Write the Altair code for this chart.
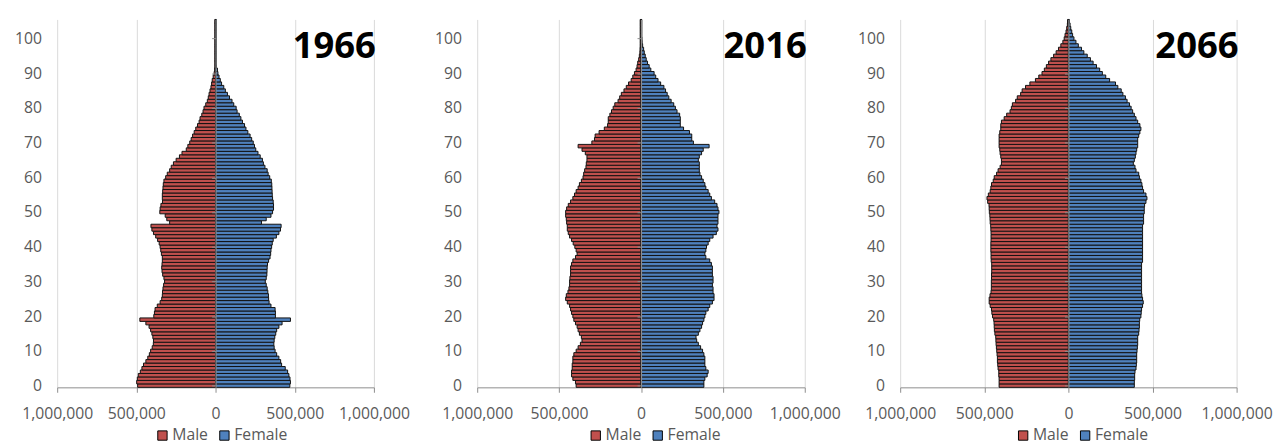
import altair as alt
import pandas as pd

AGES = list(range(0, 106))
SEXES = ["Male", "Female"]
COLORS = ["#C0504D", "#4F81BD"]
X_TICKS = [-1000000, -500000, 0, 500000, 1000000]
Y_TICKS = list(range(0, 101, 10))

# values in thousands, ages 0..105
m1966 = [492, 498, 494, 488, 475, 465, 455, 440, 428, 418,
         410, 400, 393, 392, 396, 402, 410, 420, 440, 478,
         390, 386, 382, 368, 350, 340, 336, 335, 332, 328,
         322, 326, 334, 338, 340, 338, 336, 336, 342, 346,
         350, 356, 366, 378, 392, 402, 408, 290, 308, 318,
         352, 350, 345, 335, 336, 336, 334, 332, 330, 326,
         315, 305, 290, 280, 266, 249, 228, 212, 185, 175,
         163, 154, 145, 135, 125, 114, 104, 98, 87, 79,
         73, 62, 52, 46, 41, 35, 29, 25, 21, 15,
         9, 6, 5, 5, 5, 5, 5, 5, 5, 5,
         5, 5, 5, 5, 5, 5]
f1966 = [469, 473, 470, 463, 455, 440, 417, 411, 400, 386,
         376, 370, 368, 370, 374, 380, 386, 400, 420, 473,
         378, 378, 376, 350, 338, 335, 334, 330, 326, 320,
         314, 320, 324, 325, 326, 328, 335, 344, 348, 350,
         354, 358, 364, 384, 400, 410, 414, 290, 320, 350,
         360, 366, 366, 364, 360, 358, 357, 356, 355, 352,
         342, 332, 326, 312, 302, 296, 282, 268, 254, 246,
         238, 228, 218, 204, 192, 183, 170, 160, 150, 136,
         130, 115, 104, 88, 75, 62, 52, 38, 30, 22,
         15, 12, 6, 5, 5, 5, 5, 5, 5, 5,
         5, 5, 5, 5, 5, 5]
m2016 = [396, 400, 416, 424, 424, 420, 420, 416, 416, 410,
         396, 384, 370, 360, 364, 376, 384, 390, 400, 410,
         416, 424, 430, 436, 450, 460, 456, 446, 440, 436,
         436, 434, 430, 430, 430, 424, 416, 400, 390, 396,
         404, 414, 424, 436, 444, 450, 450, 454, 456, 460,
         460, 454, 444, 430, 416, 406, 396, 384, 376, 364,
         354, 350, 344, 336, 334, 330, 330, 340, 360, 384,
         300, 284, 280, 256, 224, 204, 200, 200, 190, 180,
         170, 160, 140, 130, 120, 104, 90, 76, 60, 50,
         40, 30, 24, 20, 14, 10, 7, 6, 5, 5,
         5, 5, 5, 5, 5, 5]
f2016 = [384, 384, 390, 404, 410, 396, 390, 390, 390, 384,
         376, 364, 350, 340, 336, 350, 360, 370, 376, 384,
         390, 396, 410, 420, 436, 446, 446, 440, 440, 436,
         440, 440, 436, 436, 436, 430, 420, 396, 390, 396,
         400, 410, 420, 440, 460, 470, 464, 470, 470, 470,
         476, 470, 464, 450, 430, 420, 410, 396, 390, 380,
         370, 360, 356, 356, 356, 350, 356, 370, 380, 416,
         320, 310, 310, 296, 260, 240, 240, 240, 236, 220,
         210, 200, 184, 170, 160, 150, 140, 120, 104, 90,
         80, 60, 50, 40, 32, 26, 20, 16, 10, 7,
         6, 5, 5, 5, 5, 5]
m2066 = [412, 412, 412, 414, 414, 418, 420, 422, 422, 424,
         426, 428, 430, 431, 432, 437, 440, 441, 442, 444,
         451, 455, 457, 465, 471, 471, 466, 460, 458, 458,
         458, 457, 457, 456, 456, 456, 459, 460, 460, 461,
         461, 461, 460, 460, 460, 461, 462, 465, 466, 467,
         470, 471, 472, 480, 484, 476, 465, 461, 457, 447,
         441, 427, 418, 406, 398, 398, 402, 406, 408, 412,
         412, 412, 412, 408, 402, 402, 398, 382, 367, 347,
         339, 333, 314, 304, 284, 275, 255, 229, 196, 176,
         157, 143, 131, 118, 104, 88, 73, 59, 45, 33,
         25, 20, 14, 10, 6, 5]
f2066 = [392, 392, 394, 394, 396, 402, 404, 406, 406, 406,
         408, 410, 412, 412, 412, 418, 420, 422, 422, 424,
         431, 433, 435, 441, 445, 441, 437, 435, 435, 435,
         435, 435, 435, 435, 435, 435, 441, 441, 441, 441,
         441, 441, 441, 441, 441, 441, 441, 447, 447, 447,
         451, 451, 453, 461, 467, 461, 447, 441, 437, 431,
         422, 418, 402, 396, 386, 392, 398, 402, 406, 412,
         412, 412, 418, 425, 431, 425, 412, 402, 392, 382,
         373, 363, 349, 339, 324, 314, 294, 280, 245, 222,
         202, 186, 167, 147, 131, 112, 92, 78, 59, 45,
         33, 25, 20, 14, 10, 6]

FONT = "Open Sans"
GREY = "#595959"
AXIS_GREY = "#8C8C8C"


def panel(year, male, female, W, legend_shift):
    rows = []
    for a, v in zip(AGES, male):
        rows.append({"age": a, "sex": "Male", "value": -v * 1000})
    for a, v in zip(AGES, female):
        rows.append({"age": a, "sex": "Female", "value": v * 1000})
    df = pd.DataFrame(rows)

    bars = alt.Chart(df).mark_rect(stroke="#111111", strokeWidth=1).transform_calculate(
        lo="datum.age - 0.5", hi="datum.age + 0.5", zero="0"
    ).encode(
        x=alt.X("value:Q",
                scale=alt.Scale(domain=[-1000000, 1000000], nice=False),
                axis=alt.Axis(values=X_TICKS, labelExpr="format(abs(datum.value), ',')",
                              grid=True, gridColor="#D9D9D9", gridWidth=1,
                              domainColor=AXIS_GREY, tickColor=AXIS_GREY, tickSize=5,
                              labelFlush=False, labelPadding=14, title=None,
                              labelColor=GREY, labelFontSize=16, labelFont=FONT)),
        x2="zero:Q",
        y=alt.Y("lo:Q",
                scale=alt.Scale(domain=[-0.5, 105.5], nice=False, zero=False),
                axis=alt.Axis(values=Y_TICKS, offset=-W / 2, labelPadding=W / 2 + 12,
                              tickSize=4, domainColor=AXIS_GREY, domainWidth=1.2,
                              tickColor=AXIS_GREY, grid=False, zindex=1, title=None,
                              labelColor=GREY, labelFontSize=16, labelFont=FONT)),
        y2="hi:Q",
        color=alt.Color("sex:N",
                        scale=alt.Scale(domain=SEXES, range=COLORS),
                        legend=alt.Legend(orient="none", legendX=W / 2 + legend_shift,
                                          legendY=415, direction="horizontal", title=None,
                                          symbolType="square", symbolSize=90,
                                          symbolStrokeColor="black", symbolStrokeWidth=1,
                                          symbolOpacity=1,
                                          labelFontSize=16, labelColor=GREY, labelFont=FONT,
                                          columnPadding=8, labelOffset=2)),
    )

    title = alt.Chart(pd.DataFrame({"t": [year]})).mark_text(
        align="right", baseline="alphabetic", fontSize=37, fontWeight="bold",
        font=FONT, color="black"
    ).encode(text="t:N", x=alt.value(W + 2), y=alt.value(39))

    return alt.layer(bars, title).properties(width=W, height=374)


p1 = panel("1966", m1966, f1966, 322, -62)
p2 = panel("2016", m2016, f2016, 333, -54)
p3 = panel("2066", m2066, f2066, 342, -54)

inner = alt.hconcat(p1, p2, spacing=24).resolve_scale(
    color="independent").resolve_legend(color="independent")

chart = alt.hconcat(inner, p3, spacing=16).resolve_scale(
    color="independent"
).resolve_legend(color="independent").properties(
    padding={"left": 6, "top": 7, "right": 0, "bottom": 0}
).configure_view(stroke=None)

chart.save("out.html", embed_options={"renderer": "svg", "actions": False})
